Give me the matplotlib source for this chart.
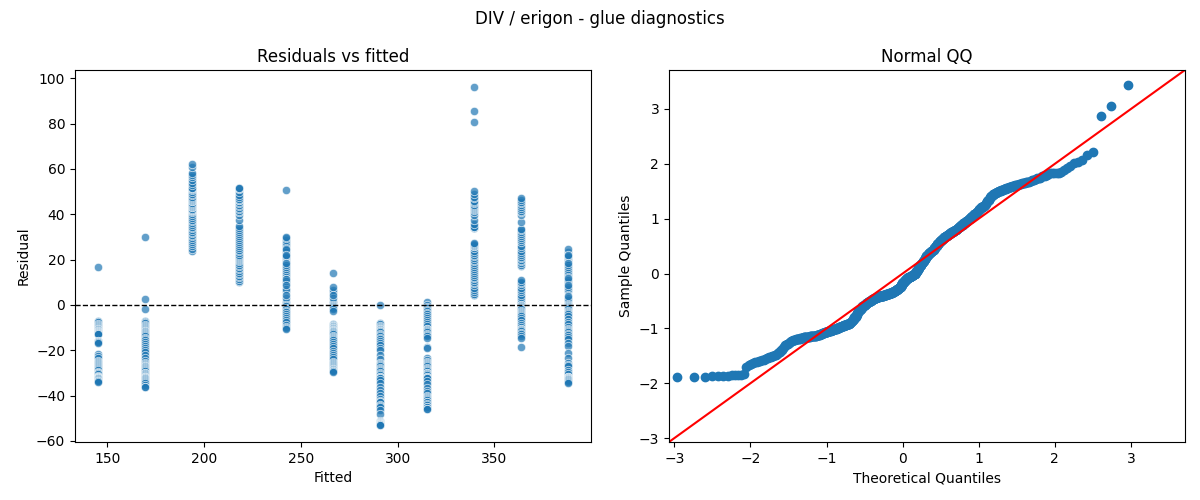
import numpy as np
import matplotlib
matplotlib.use("Agg")
import matplotlib.pyplot as plt
from statistics import NormalDist

# fitted value of each group and the residuals
fitted_levels = [145.5, 169.7, 194.0, 218.2, 242.4, 266.6, 290.8, 315.0, 339.4, 363.6, 387.8]

res_145 = [16.6,
           -7.1, -7.6, -8.2, -8.7, -9.3, -9.8, -10.1,
           -10.4, -10.8, -11.1, -11.4, -11.7,
           -12.0, -12.1, -12.3, -12.5, -12.6, -12.8,
           -15.8, -16.0, -16.2, -16.4, -16.7,
           -21.8, -22.3, -23.4, -24.6, -25.0,
           -25.7, -26.1, -26.5, -26.9, -27.3, -27.8,
           -28.3, -28.9, -29.5, -30.0, -30.1, -30.6, -31.2,
           -31.6, -31.8, -32.0, -32.1, -32.3, -32.4,
           -32.8, -33.1, -33.4, -33.6, -33.9]
res_170 = [29.9, 2.5, -1.9,
           -6.9, -7.5, -8.1, -8.8, -9.4, -9.9,
           -10.3, -10.7, -11.0, -11.3, -11.6,
           -12.0, -12.4, -12.9, -13.4, -13.9, -14.4, -15.0,
           -15.6, -16.3, -17.1, -17.9, -18.8, -19.7,
           -20.8, -22.0, -23.3, -24.6,
           -25.6, -26.0, -26.4, -26.8, -27.1, -27.5, -27.9,
           -28.2, -28.7, -29.2, -29.8, -30.0, -30.3, -30.8, -31.3,
           -31.6, -31.7, -31.9, -32.1, -32.3, -32.5,
           -33.0, -33.5, -34.0, -34.6, -35.3, -36.0, -36.4]
res_194 = [23.6, 24.6,
           26.0, 26.8, 27.7, 28.6, 29.5, 30.4,
           31.0, 31.7, 32.4, 33.1, 33.8,
           34.5, 35.3, 36.1, 36.9, 37.6, 38.4, 39.2, 40.0, 40.8,
           41.3, 41.7, 42.1, 42.5, 43.0, 43.4, 43.8, 44.2,
           44.7, 45.2, 45.7, 45.9, 46.2, 46.7, 47.2, 47.7,
           48.3, 49.0, 49.8, 50.6, 51.2, 51.5, 51.8,
           52.8, 53.9, 55.2, 56.3, 57.2, 58.2, 60.7, 62.2]
res_218 = [10.0, 10.6, 11.5,
           12.2, 12.9, 13.6, 14.3, 15.0, 15.7, 16.4, 17.1, 17.8, 18.5,
           19.2, 19.7, 20.2, 20.7, 21.2, 21.7, 22.1,
           22.8, 23.6, 24.4, 25.2,
           26.0, 26.9, 27.8, 28.7, 29.6, 30.5,
           31.2, 32.1, 33.0, 33.8,
           35.0, 37.4, 39.8, 40.9,
           41.5, 42.2, 42.9, 43.5, 44.1,
           44.8, 45.5, 46.2, 46.5, 46.9, 47.6,
           48.6, 50.0, 51.2, 51.4, 51.6]
res_242 = [50.7,
           25.8, 26.7, 27.6, 28.5, 29.4, 30.2,
           22.5, 23.3, 24.1, 24.9,
           19.1, 19.6, 20.1, 20.6, 21.1, 21.6, 22.1,
           12.2, 13.1, 14.0, 14.9, 15.8, 16.7, 17.6, 18.5,
           9.5, 10.4, 11.3, 6.0, 7.2, 8.8, 1.5, 2.9, 4.2,
           0.0, -0.6, -1.2, -1.9, -2.6, -3.3, -4.0, -4.7,
           -5.9, -6.8, -7.7, -8.7, -9.9, -10.3, -10.5]
res_267 = [14.0, 5.6, 6.6, 8.0, 1.5, 2.9, 4.4,
           0.0, -0.5, -1.0, -1.5, -2.0, -2.5,
           -8.6, -8.9, -9.2, -9.5, -9.8, -10.1,
           -10.3, -10.6, -10.9, -11.2, -11.5, -11.7,
           -12.0, -12.5, -13.0, -13.5, -14.0, -14.5, -15.0,
           -15.6, -16.5, -17.4, -18.3, -19.2, -20.1,
           -21.0, -22.0, -23.0, -24.0, -25.0,
           -25.6, -26.0, -26.4, -26.8, -27.2, -27.7,
           -28.1, -28.3, -28.6, -29.0, -29.3, -29.5]
res_291 = [0.0,
           -8.1, -8.6, -9.1, -9.6, -10.1,
           -10.4, -10.7, -11.0, -11.3, -11.6,
           -12.0, -12.6, -13.2, -13.8, -14.4, -15.0,
           -15.8, -16.8, -17.8, -18.8, -19.8,
           -22.0, -24.0,
           -25.6, -26.1, -26.6, -27.1, -27.6,
           -28.1, -28.7, -29.3, -29.9, -30.5, -31.1,
           -31.6, -31.9, -32.2, -32.4, -33.0, -34.5,
           -36.0, -37.5, -39.0, -40.0,
           -41.5, -42.2, -42.6, -43.0, -44.0, -44.6,
           -45.0, -46.5, -47.9,
           -51.4, -51.6, -51.7, -51.9, -52.0, -52.2,
           -52.3, -52.4, -52.5, -52.6, -52.8, -53.0]
res_315 = [1.5,
           0.0, -0.7, -1.4, -2.1, -2.8, -3.5, -4.2, -4.9,
           -5.9, -6.8, -7.7, -8.6, -9.5,
           -10.4, -10.8, -11.2, -11.6,
           -12.0, -12.6, -13.2, -13.8, -14.4,
           -18.6, -18.9,
           -23.6, -24.3, -25.0,
           -25.6, -26.1, -26.6, -27.1, -27.6,
           -28.1, -28.7, -29.3, -29.9, -30.0, -30.5, -31.1,
           -31.6, -31.9, -32.2, -32.4, -33.5, -35.0,
           -36.5, -38.0, -39.0, -40.3, -40.8,
           -41.2, -41.6, -42.0, -42.8, -43.0, -43.5, -44.0,
           -44.8, -45.2, -45.7, -46.0]
res_339 = [96.2, 85.7, 80.5,
           4.4, 4.6, 4.8, 5.5, 6.6, 7.7, 8.8,
           9.6, 10.3, 11.0, 11.7,
           12.3, 13.2, 14.1, 15.0, 15.9, 16.8, 17.7, 18.6,
           19.3, 20.0, 20.7, 21.4, 22.1,
           23.0, 24.0, 25.0,
           25.8, 26.2, 26.6, 27.0, 27.3,
           33.9, 34.0, 34.3, 34.4, 35.5, 37.5, 39.6,
           41.2, 41.7, 42.2, 42.7, 43.2, 43.7, 44.2,
           45.0, 45.5, 46.0, 47.0, 47.7, 49.0, 50.1]
res_364 = [0.5, 1.5, 2.5, 3.5, 4.5,
           5.5, 6.6, 7.7, 8.8, 9.8, 10.3, 11.0,
           17.0, 17.6, 18.3,
           19.2, 19.9, 20.6, 21.3, 22.0,
           23.0, 24.0, 25.0,
           26.0, 27.8, 28.7, 29.6, 30.5,
           31.3, 32.1, 32.9, 33.7,
           36.5, 39.5, 40.8,
           41.3, 42.3, 43.3, 44.2,
           44.8, 45.5, 46.1, 47.0,
           0.0, -0.4, -0.8, -1.2, -1.6, -2.0, -2.5, -3.0, -3.5, -4.0, -4.5, -5.0,
           -5.8, -6.8, -7.8, -8.8, -9.8,
           -10.4, -10.8, -11.2, -11.6,
           -12.2, -13.0, -13.9, -14.7,
           -18.7]
res_388 = [23.5, 24.6,
           19.2, 19.8, 20.4, 21.0, 21.6, 22.2,
           12.2, 13.1, 14.0, 14.9, 15.8, 16.7, 17.6, 18.5,
           9.5, 10.3, 11.0, 11.7,
           6.0, 7.0, 8.1, 9.0,
           1.0, 2.0, 3.0, 3.9,
           0.0, -0.5, -1.0, -1.5, -2.0, -2.5, -3.0, -3.6, -4.2, -4.8,
           -6.0, -7.3, -8.6, -9.9,
           -10.5, -11.0, -11.5,
           -12.0, -12.7, -13.4, -14.1, -14.8,
           -16.8, -18.0, -21.4, -23.6, -25.8, -26.5, -27.0,
           -28.5, -29.5, -30.5,
           -31.6, -31.8, -32.0, -32.1, -32.3, -32.5,
           -32.8, -33.2, -33.6, -33.8, -34.6]

groups = [res_145, res_170, res_194, res_218, res_242, res_267,
          res_291, res_315, res_339, res_364, res_388]

fitted = np.concatenate([np.full(len(g), f) for f, g in zip(fitted_levels, groups)])
resid = np.concatenate([np.array(g, dtype=float) for g in groups])

# normal QQ (standardised residuals vs normal quantiles, positions i/(n+1))
n = len(resid)
sample_q = np.sort((resid - resid.mean()) / resid.std())
nd = NormalDist()
theo_q = np.array([nd.inv_cdf(i / (n + 1)) for i in range(1, n + 1)])

fig, (ax1, ax2) = plt.subplots(1, 2, figsize=(12, 5), dpi=100)
fig.subplots_adjust(left=0.0625, right=0.9875, top=0.86, bottom=0.116, wspace=0.151)

ax1.scatter(fitted, resid, s=36, color='#1f77b4', alpha=0.7,
            edgecolor='white', linewidth=0.6)
ax1.axhline(0, color='black', linestyle='--', linewidth=1)
ax1.set_title("Residuals vs fitted")
ax1.set_xlabel("Fitted")
ax1.set_ylabel("Residual")
ax1.set_yticks(np.arange(-60, 101, 20))

ax2.plot(theo_q, sample_q, marker='o', linestyle='None', color='#1f77b4')
lims = (-3.07, 3.71)
ax2.plot(lims, lims, color='red')
ax2.set_xlim(lims)
ax2.set_ylim(lims)
ax2.set_xticks(range(-3, 4))
ax2.set_yticks(range(-3, 4))
ax2.set_title("Normal QQ")
ax2.set_xlabel("Theoretical Quantiles")
ax2.set_ylabel("Sample Quantiles")

fig.suptitle("DIV / erigon - glue diagnostics")
fig.savefig("out.png")
